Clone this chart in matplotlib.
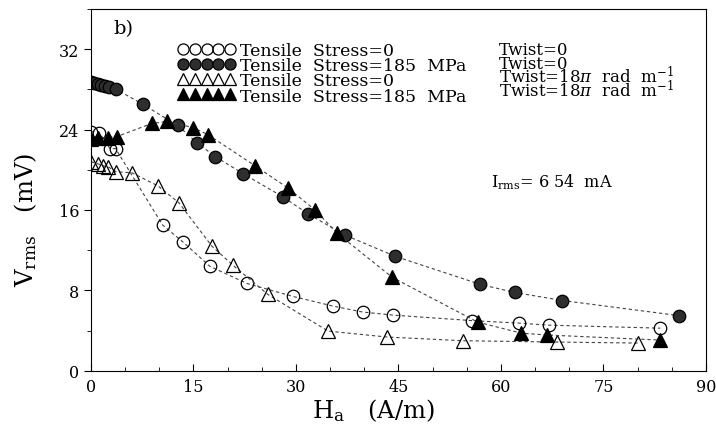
import matplotlib
matplotlib.use("Agg")
import matplotlib.pyplot as plt
from matplotlib.lines import Line2D
from matplotlib.ticker import MultipleLocator

# Tensile Stress=0, Twist=0 (open circles)
x_s0_t0 = [0, 1.2, 2.8, 3.6, 10.5, 13.5, 17.4, 22.8, 29.6, 35.4, 39.8, 44.2, 55.8, 62.7, 67.0, 83.3]
y_s0_t0 = [23.8, 23.7, 22.1, 22.1, 14.5, 12.8, 10.4, 8.7, 7.4, 6.45, 5.85, 5.55, 5.0, 4.75, 4.55, 4.25]

# Tensile Stress=185 MPa, Twist=0 (filled circles)
x_s185_t0 = [0, 0.5, 1.0, 1.5, 2.0, 2.7, 3.7, 7.6, 12.7, 15.5, 18.2, 22.3, 28.1, 31.8, 37.2, 44.5, 57.0, 62.0, 69.0, 86.0]
y_s185_t0 = [28.7, 28.6, 28.5, 28.4, 28.3, 28.2, 28.0, 26.5, 24.4, 22.7, 21.3, 19.6, 17.3, 15.6, 13.5, 11.4, 8.6, 7.8, 7.0, 5.5]

# Tensile Stress=0, Twist=18pi (open triangles)
x_s0_t18 = [0, 1.0, 1.7, 2.5, 3.7, 6.0, 9.8, 12.9, 17.7, 20.8, 25.9, 34.7, 43.3, 54.5, 68.2, 80.0]
y_s0_t18 = [20.8, 20.6, 20.4, 20.3, 19.8, 19.7, 18.4, 16.7, 12.4, 10.5, 7.6, 3.96, 3.37, 3.0, 2.87, 2.77]

# Tensile Stress=185 MPa, Twist=18pi (filled triangles)
x_s185_t18 = [0, 1.0, 2.5, 3.8, 8.9, 11.1, 14.9, 17.1, 24.0, 28.8, 32.8, 36.0, 44.1, 56.6, 63.0, 66.8, 83.2]
y_s185_t18 = [23.1, 23.2, 23.2, 23.3, 24.6, 24.8, 24.2, 23.5, 20.4, 18.2, 16.0, 13.7, 9.3, 4.85, 3.75, 3.57, 3.07]

stress_labels = ["Tensile  Stress=0", "Tensile  Stress=185  MPa",
                 "Tensile  Stress=0", "Tensile  Stress=185  MPa"]
twist_labels = ["Twist=0", "Twist=0",
                r"Twist=18$\pi$  rad  m$^{-1}$", r"Twist=18$\pi$  rad  m$^{-1}$"]

plt.rcParams['font.family'] = ['DejaVu Serif']
plt.rcParams['mathtext.fontset'] = 'dejavuserif'

fig = plt.figure(figsize=(7.16, 4.27), dpi=100)
ax = fig.add_axes([0.127, 0.129, 0.859, 0.848])

line_kw = dict(color='#444444', lw=0.8, dashes=(3, 2.5))
styles = [
    dict(marker='o', mfc='none', mec='black', ms=9, mew=0.9),
    dict(marker='o', mfc='#2e2e2e', mec='black', ms=9, mew=0.9),
    dict(marker='^', mfc='none', mec='black', ms=10, mew=0.9),
    dict(marker='^', mfc='black', mec='black', ms=9.5, mew=0.9),
]
series = [(x_s0_t0, y_s0_t0), (x_s185_t0, y_s185_t0),
          (x_s0_t18, y_s0_t18), (x_s185_t18, y_s185_t18)]

for (xs, ys), st in zip(series, styles):
    ax.plot(xs, ys, **line_kw, **st)

ax.set_xlim(0, 90)
ax.set_ylim(0, 36)
ax.xaxis.set_major_locator(MultipleLocator(15))
ax.xaxis.set_minor_locator(MultipleLocator(5))
ax.yaxis.set_major_locator(MultipleLocator(8))
ax.yaxis.set_minor_locator(MultipleLocator(4))
ax.tick_params(axis='x', which='both', direction='in', labelsize=11.5, pad=5)
ax.tick_params(axis='x', which='major', length=5)
ax.tick_params(axis='x', which='minor', length=3)
ax.tick_params(axis='y', which='both', direction='out', labelsize=11.5)
ax.tick_params(axis='y', which='major', length=5)
ax.tick_params(axis='y', which='minor', length=3)
for sp in ax.spines.values():
    sp.set_linewidth(0.8)

ax.set_xlabel(r"H$_\mathregular{a}$   (A/m)", fontsize=17.5)
ax.set_ylabel(r"V$_\mathregular{rms}$   (mV)", fontsize=17.5)
ax.xaxis.set_label_coords(0.46, -0.07)
ax.yaxis.set_label_coords(-0.085, 0.42)

ax.text(0.036, 0.972, "b)", transform=ax.transAxes, fontsize=14, va='top')
ax.text(0.65, 0.525, r"I$_\mathregular{rms}$= 6 54  mA", transform=ax.transAxes,
        fontsize=11.5, va='center')

handles = [Line2D([], [], ls='none', **dict(st, ms=8)) for st in styles]
leg = ax.legend(handles, stress_labels, loc='upper left', bbox_to_anchor=(0.1415, 0.909),
                numpoints=5, handlelength=3.3, handletextpad=0.25, labelspacing=-0.1,
                frameon=False, fontsize=12.5, borderaxespad=0, borderpad=0)
row_y = [0.874, 0.836, 0.797, 0.758]
for t, yy in zip(twist_labels, row_y):
    ax.text(0.664, yy, t, transform=ax.transAxes, fontsize=12, va='baseline', ha='left')

fig.savefig("out.png", dpi=100)
